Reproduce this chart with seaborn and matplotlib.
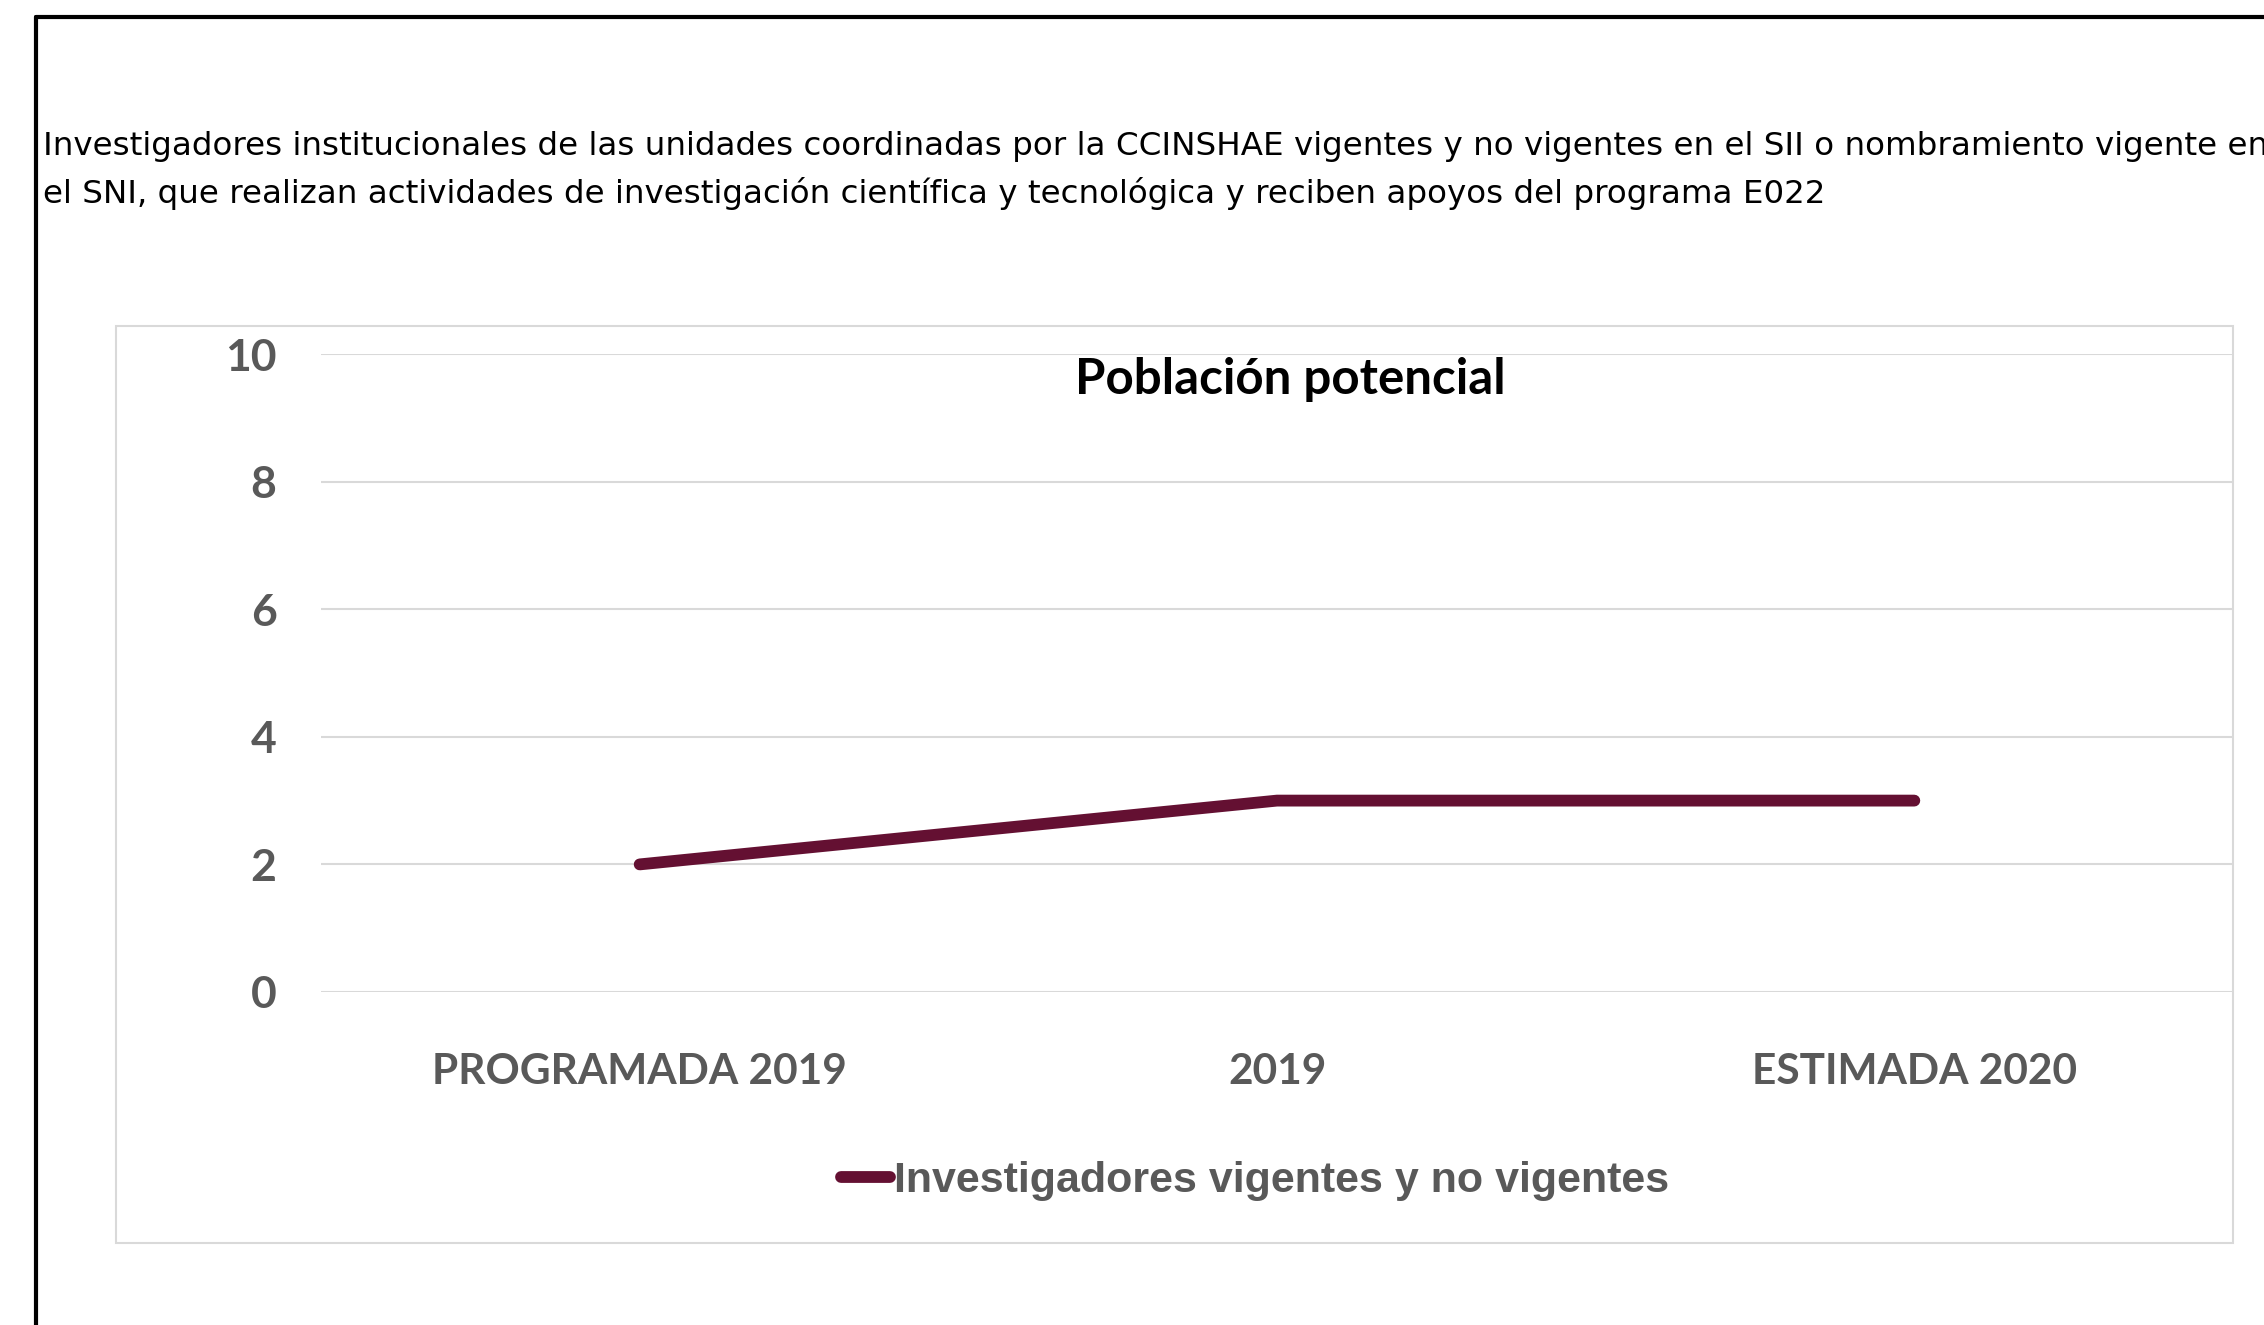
import matplotlib
matplotlib.use("Agg")
import matplotlib.pyplot as plt
from matplotlib.lines import Line2D
from matplotlib.patches import Rectangle
import seaborn as sns
import pandas as pd

# Data
categories = ["PROGRAMADA 2019", "2019", "ESTIMADA 2020"]
investigadores = [2, 3, 3]
series_name = "Investigadores vigentes y no vigentes"
y_ticks = [0, 2, 4, 6, 8, 10]

chart_title = "Población potencial"
description = ("Investigadores institucionales de las unidades coordinadas por la CCINSHAE vigentes y no vigentes en el SII o nombramiento vigente en\n"
               "el SNI, que realizan actividades de investigación científica y tecnológica y reciben apoyos del programa E022")

df = pd.DataFrame({"Categoria": categories, "Valor": investigadores})

sns.set_style("white")
plt.rcParams["font.family"] = ["Lato", "DejaVu Sans"]

W, H = 2264, 1325
fig = plt.figure(figsize=(W / 100, H / 100), dpi=100)
fig.patch.set_facecolor("white")

# outer black frame (open to the right and bottom)
fig.add_artist(Line2D([36 / W, 36 / W], [0, 1 - 17 / H], color="black", lw=3, transform=fig.transFigure))
fig.add_artist(Line2D([36 / W, 1], [1 - 17 / H, 1 - 17 / H], color="black", lw=3, transform=fig.transFigure))

# description text
desc_lines = description.split("\n")
fig.text(43 / W, 1 - 155 / H, desc_lines[0], ha="left", va="baseline", fontsize=23.4,
         family=["DejaVu Sans"], color="black")
fig.text(43 / W, 1 - 203 / H, desc_lines[1], ha="left", va="baseline", fontsize=23.4,
         family=["DejaVu Sans"], color="black")

# chart frame
fig.add_artist(Rectangle((116 / W, 1 - 1243 / H), (2233 - 116) / W, (1243 - 326) / H,
                         transform=fig.transFigure, fill=False, edgecolor="#d9d9d9", lw=1.5))

ax = fig.add_axes([321 / W, 1 - 992 / H, (2233 - 321) / W, (992 - 354) / H])
sns.lineplot(data=df, x="Categoria", y="Valor", sort=False, ax=ax, color="#641032",
             lw=8.5, solid_capstyle="round", label=series_name, legend=False)

ax.set_xlim(-0.5, 2.5)
ax.set_ylim(0, 10)
ax.set_yticks(y_ticks)
ax.set_xlabel("")
ax.set_ylabel("")
ax.grid(axis="y", color="#d9d9d9", lw=1.5)
ax.set_axisbelow(True)
for s in ax.spines.values():
    s.set_visible(False)
ax.tick_params(axis="y", length=0, pad=32, labelsize=32, labelcolor="#595959")
ax.tick_params(axis="x", length=0, pad=44, labelsize=30.5, labelcolor="#595959")
for lbl in ax.get_xticklabels() + ax.get_yticklabels():
    lbl.set_fontweight("bold")

fig.text(1290 / W, 1 - 394 / H, chart_title, ha="center", va="baseline",
         fontsize=35.5, fontweight="bold", color="black")

handle = Line2D([], [], color="#641032", lw=8.5, solid_capstyle="round")
leg = fig.legend([handle], [series_name], loc="center", bbox_to_anchor=(1255 / W, 1 - 1181 / H),
                 frameon=False, handlelength=1.15, handletextpad=0.1,
                 prop={"family": ["Liberation Sans", "DejaVu Sans"],
                       "weight": "bold", "size": 31})
for t in leg.get_texts():
    t.set_color("#595959")

fig.savefig("out.png", dpi=100, facecolor="white")
